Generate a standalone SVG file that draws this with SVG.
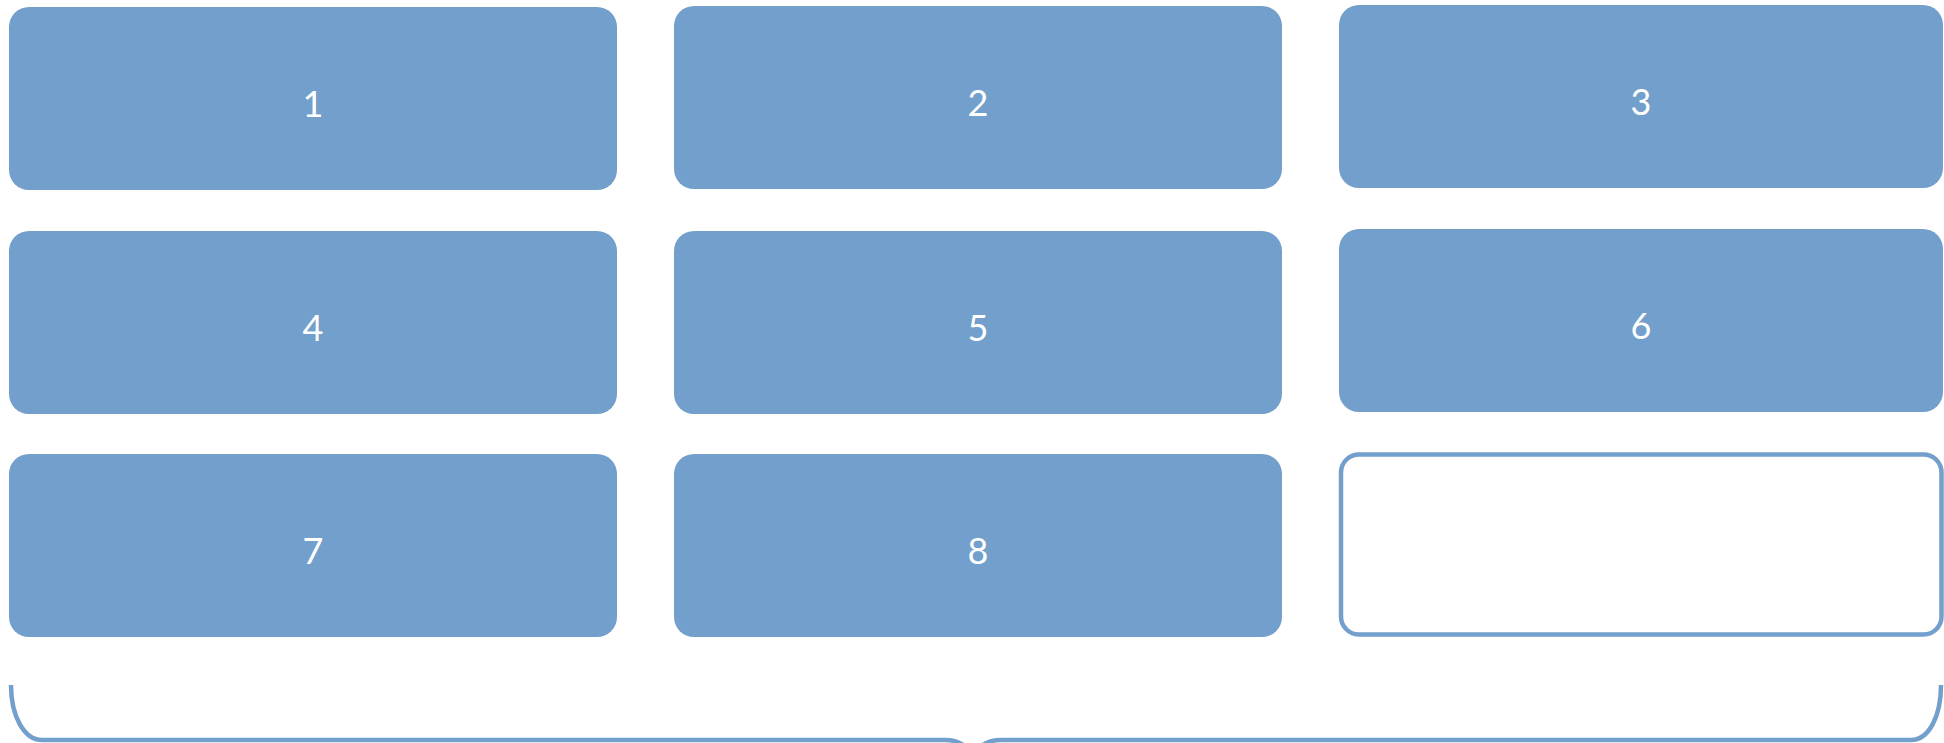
<svg xmlns="http://www.w3.org/2000/svg" width="1944" height="743" viewBox="0 0 1944 743">
<style>
.box{fill:#729FCB}
.empty{fill:#FFFFFF;stroke:#729FCB;stroke-width:4.5}
.lbl{font-family:Lato,"Open Sans",sans-serif;font-size:36px;fill:#FFFFFF;text-anchor:middle}
.brace{fill:none;stroke:#729FCB;stroke-width:4.5}
</style>
<rect width="1944" height="743" fill="#FFFFFF"/>
<g id="node1"><rect class="box" x="9" y="7" width="608" height="183" rx="20"/><text class="lbl" x="313" y="117">1</text></g>
<g id="node2"><rect class="box" x="674" y="6" width="608" height="183" rx="20"/><text class="lbl" x="978" y="116">2</text></g>
<g id="node3"><rect class="box" x="1339" y="5" width="604" height="183" rx="20"/><text class="lbl" x="1641" y="115">3</text></g>
<g id="node4"><rect class="box" x="9" y="231" width="608" height="183" rx="20"/><text class="lbl" x="313" y="341">4</text></g>
<g id="node5"><rect class="box" x="674" y="231" width="608" height="183" rx="20"/><text class="lbl" x="978" y="341">5</text></g>
<g id="node6"><rect class="box" x="1339" y="229" width="604" height="183" rx="20"/><text class="lbl" x="1641" y="339">6</text></g>
<g id="node7"><rect class="box" x="9" y="454" width="608" height="183" rx="20"/><text class="lbl" x="313" y="564">7</text></g>
<g id="node8"><rect class="box" x="674" y="454" width="608" height="183" rx="20"/><text class="lbl" x="978" y="564">8</text></g>
<g id="node9"><rect class="empty" x="1341" y="454.5" width="600.5" height="180" rx="18"/></g>
<g id="connectors">
<path class="brace" d="M 11 685 C 11 716 24 740 42 740 L 945 740 C 960 740 972 748 973 762"/>
<path class="brace" d="M 973 762 C 974 748 986 740 1001 740 L 1911 740 C 1929 740 1941 716 1941 685"/>
</g>
</svg>
